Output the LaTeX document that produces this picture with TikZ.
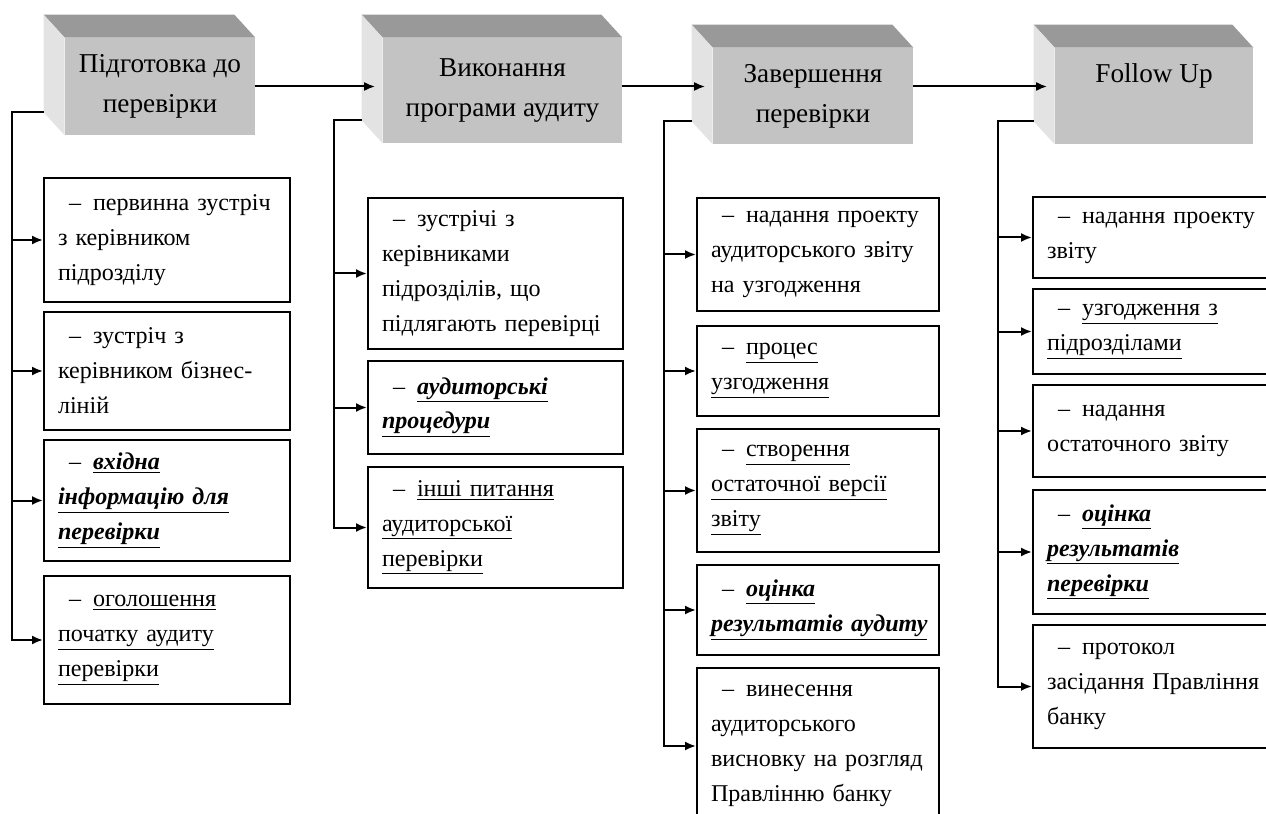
\documentclass[tikz,border=0pt]{standalone}
\usepackage{fontspec}
\setmainfont{Liberation Serif}
\usetikzlibrary{arrows.meta}

\newcommand{\lead}{\hspace*{2.2mm}–\hspace{2.4mm}}
\newcommand{\undl}[1]{\underline{#1}}
\newcommand{\bitul}[1]{\textbf{\textit{\underline{#1}}}}

\tikzset{
	stage/.style={fill=cubefront, inner sep=0pt, align=center, font=\fontsize{15.5}{22.8}\selectfont},
	task/.style={draw, line width=0.4mm, anchor=north west, align=left, inner xsep=2.8mm, inner ysep=0pt, font=\fontsize{13.7}{19.9}\selectfont},
	link/.style={line width=0.4mm, -{Latex[length=2.2mm,width=1.8mm]}},
}

\begin{document}
\begin{tikzpicture}[x=0.2mm, y=-0.2mm]
		\definecolor{cubefront}{HTML}{C3C3C3}
		\definecolor{cubetop}{HTML}{999999}
		\definecolor{cubeside}{HTML}{E3E3E3}
		\useasboundingbox (0,0) rectangle (1266,814);

		% stages
		\node[stage, minimum width=38mm, minimum height=19.4mm] (c1) at (160,86.5) {Підготовка до\\перевірки};
		\node[stage, minimum width=47.8mm, minimum height=21mm] (c2) at (502.5,90.5) {Виконання\\програми аудиту};
		\node[stage, minimum width=40mm, minimum height=19.2mm] (c3) at (813,96) {Завершення\\перевірки};
		\node[stage, minimum width=39.6mm, minimum height=19.2mm] (c4) at (1154,96) {Follow Up\\\phantom{p}};
		\foreach \c in {c1,c2,c3,c4}{
				\fill[cubetop] (\c.north west) -- ++(-21,-23) -- ([shift={(-21,-23)}]\c.north east) -- (\c.north east) -- cycle;
				\fill[cubeside] (\c.north west) -- ++(-21,-23) -- ([shift={(-21,-23)}]\c.south west) -- (\c.south west) -- cycle;
				\coordinate (k\c) at ([shift={(-21,-23)}]\c.south west);
			}

		% tasks
		\node[task, text width=43.6mm, minimum height=24.8mm] (b11) at (43,177) {\lead первинна зустріч\\з керівником\\підрозділу};
		\node[task, text width=43.6mm, minimum height=23.6mm] (b12) at (43,311) {\lead зустріч з\\керівником бізнес-\\ліній};
		\node[task, text width=43.6mm, minimum height=24.2mm] (b13) at (43,439) {\lead\bitul{вхідна}\\\bitul{інформацію для}\\\bitul{перевірки}};
		\node[task, text width=43.6mm, minimum height=25.6mm] (b14) at (43,575) {\lead\undl{оголошення}\\\undl{початку аудиту}\\\undl{перевірки}};

		\node[task, text width=45.4mm, minimum height=30.2mm] (b21) at (367,197) {\lead зустрічі з\\керівниками\\підрозділів, що\\підлягають перевірці};
		\node[task, text width=45.4mm, minimum height=18.6mm] (b22) at (367,360) {\lead\bitul{аудиторські}\\\bitul{процедури}};
		\node[task, text width=45.4mm, minimum height=24.2mm] (b23) at (367,466) {\lead\undl{інші питання}\\\undl{аудиторської}\\\undl{перевірки}};

		\node[task, text width=42.8mm, minimum height=22.6mm] (b31) at (696,197) {\lead надання проекту\\аудиторського звіту\\на узгодження};
		\node[task, text width=42.8mm, minimum height=18mm] (b32) at (696,325) {\lead\undl{процес}\\\undl{узгодження}};
		\node[task, text width=42.8mm, minimum height=24.6mm] (b33) at (696,428) {\lead\undl{створення}\\\undl{остаточної версії}\\\undl{звіту}};
		\node[task, text width=42.8mm, minimum height=18mm] (b34) at (696,564) {\lead\bitul{оцінка}\\\bitul{результатів аудиту}};
		\node[task, text width=42.8mm, minimum height=31.2mm] (b35) at (696,667) {\lead винесення\\аудиторського\\висновку на розгляд\\Правлінню банку};

		\node[task, text width=45mm, minimum height=16.2mm] (b41) at (1032,196) {\lead надання проекту\\звіту};
		\node[task, text width=45mm, minimum height=17mm] (b42) at (1032,288) {\lead\undl{узгодження з}\\\undl{підрозділами}};
		\node[task, text width=45mm, minimum height=18.4mm] (b43) at (1032,384) {\lead надання\\остаточного звіту};
		\node[task, text width=45mm, minimum height=24.8mm] (b44) at (1032,489) {\lead\bitul{оцінка}\\\bitul{результатів}\\\bitul{перевірки}};
		\node[task, text width=45mm, minimum height=24.6mm] (b45) at (1032,624) {\lead протокол\\засідання Правління\\банку};

		% stage to stage
		\draw[link, shorten >=1.5mm] (c1.east) -- (c2.west |- c1.east);
		\draw[link, shorten >=1.5mm] (c2.east |- c1.east) -- (c3.west |- c1.east);
		\draw[link, shorten >=1.5mm] (c3.east |- c1.east) -- (c4.west |- c1.east);

		% trunks
		\coordinate (t1) at (12,0);
		\coordinate (t2) at (334,0);
		\coordinate (t3) at (664,0);
		\coordinate (t4) at (998,0);
		\draw[link] (kc1) -- (kc1 -| t1) |- (b14.west);
		\draw[link] (kc2) -- (kc2 -| t2) |- (b23.west);
		\draw[link] (kc3) -- (kc3 -| t3) |- (b35.west);
		\draw[link] (kc4) -- (kc4 -| t4) |- (b45.west);
		\foreach \b in {b11,b12,b13}
		\draw[link] (t1 |- \b.west) -- (\b.west);
		\foreach \b in {b21,b22}
		\draw[link] (t2 |- \b.west) -- (\b.west);
		\foreach \b in {b31,b32,b33,b34}
		\draw[link] (t3 |- \b.west) -- (\b.west);
		\foreach \b in {b41,b42,b43,b44}
		\draw[link] (t4 |- \b.west) -- (\b.west);
	\end{tikzpicture}
\end{document}
